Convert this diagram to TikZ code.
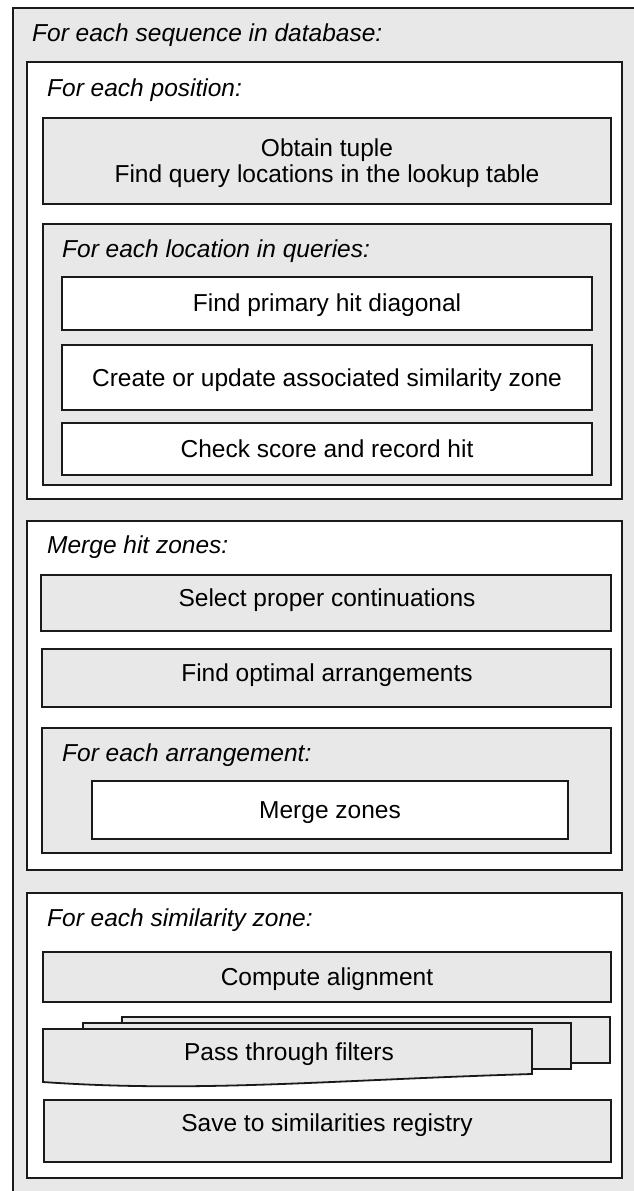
\documentclass[tikz,border=0pt]{standalone}
\usepackage{fontspec}
\setmainfont{Liberation Sans}
\definecolor{bg}{HTML}{E7E8E7}
\definecolor{ln}{HTML}{1A1A1A}
\tikzset{
  frame/.style={draw=ln, line width=1.8pt, outer sep=0pt, inner sep=0pt, anchor=north west},
  gbox/.style={frame, fill=bg},
  wbox/.style={frame, fill=white},
  page/.style={draw=ln, line width=1.8pt, fill=bg, line join=miter},
  txt/.style={font=\fontsize{24.5}{28}\selectfont, inner sep=0pt, anchor=base},
  lbl/.style={font=\fontsize{24.5}{28}\selectfont\itshape, inner sep=0pt, anchor=base west},
}
\newcommand{\bx}[6]{\node[#1, minimum width={#5pt-#3pt}, minimum height={#6pt-#4pt}] (#2) at (#3,#4) {};}
\newcommand{\tx}[5]{\node[#1] (#2) at (#3,{#4+8.8}) {#5};}
\begin{document}
\begin{tikzpicture}[x=1pt,y=-1pt]
\useasboundingbox (0,0) rectangle (634,1191);
\clip (0,0) rectangle (634,1191);
\fill[white] (0,0) rectangle (634,1191);
% outer loop
\bx{gbox,line width=2.4pt}{outer}{13}{8}{660}{1220}
\tx{lbl}{outerL}{32}{33}{For each sequence in database:}
% for each position
\bx{wbox}{pos}{27}{62}{622}{499}
\tx{lbl}{posL}{47}{88}{For each position:}
\bx{gbox}{obtain}{43}{118}{611}{204}
\tx{txt}{obtainA}{327}{148}{Obtain tuple}
\tx{txt}{obtainB}{327}{174}{Find query locations in the lookup table}
\bx{gbox}{loc}{43}{224}{611}{485}
\tx{lbl}{locL}{62}{249}{For each location in queries:}
\bx{wbox}{prim}{62}{277}{592}{330}
\tx{txt}{primT}{327}{303}{Find primary hit diagonal}
\bx{wbox}{create}{62}{345}{592}{410}
\tx{txt}{createT}{327}{378}{Create or update associated similarity zone}
\bx{wbox}{check}{62}{423}{592}{475}
\tx{txt}{checkT}{327}{449}{Check score and record hit}
% merge hit zones
\bx{wbox}{merge}{27}{521}{622}{870}
\tx{lbl}{mergeL}{47}{545}{Merge hit zones:}
\bx{gbox}{select}{41}{575}{611}{631}
\tx{txt}{selectT}{327}{598}{Select proper continuations}
\bx{gbox}{optimal}{42}{649}{611}{707}
\tx{txt}{optimalT}{327}{673}{Find optimal arrangements}
\bx{gbox}{arr}{42}{728}{611}{853}
\tx{lbl}{arrL}{62}{753}{For each arrangement:}
\bx{wbox}{mzones}{92}{781}{568}{839}
\tx{txt}{mzonesT}{330}{810}{Merge zones}
% for each similarity zone
\bx{wbox}{sim}{27}{893}{622}{1178}
\tx{lbl}{simL}{47}{918}{For each similarity zone:}
\bx{gbox}{compute}{43}{952}{611}{1002}
\tx{txt}{computeT}{327}{977}{Compute alignment}
\bx{gbox}{pageC}{122}{1017}{610}{1063}
\bx{gbox}{pageB}{83}{1023}{571}{1069}
\draw[page] (43,1029) -- (532,1029) -- (532,1074)
  .. controls (330,1080) and (200,1093) .. (43,1082) -- cycle;
\tx{txt}{filtersT}{289}{1052}{Pass through filters}
\bx{gbox}{save}{44}{1100}{611}{1162}
\tx{txt}{saveT}{327}{1123}{Save to similarities registry}
\end{tikzpicture}
\end{document}
